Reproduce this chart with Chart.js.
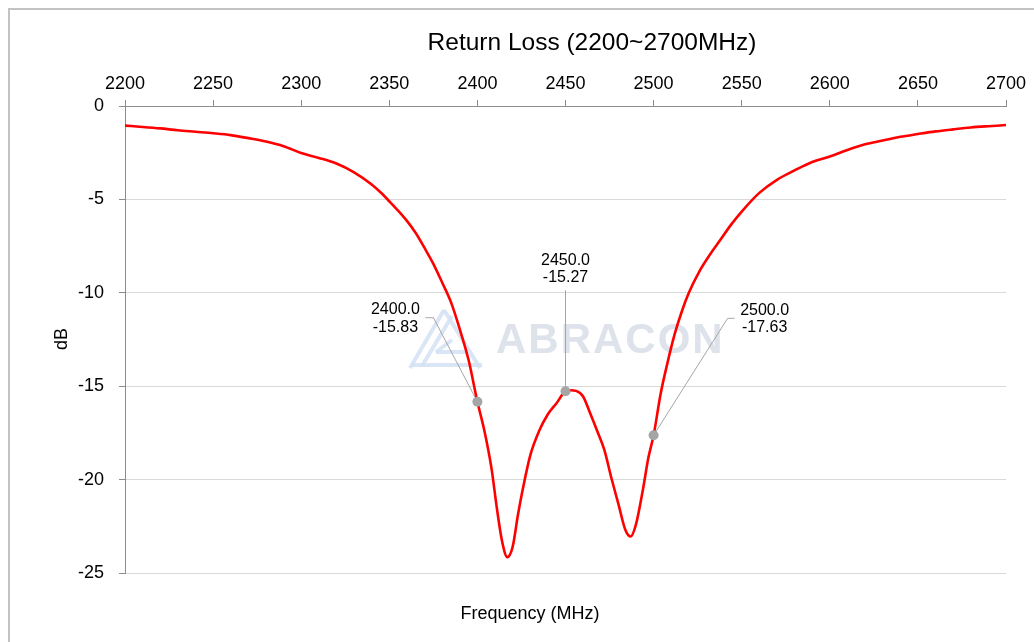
<!DOCTYPE html>
<html><head><meta charset="utf-8">
<script src="https://cdn.jsdelivr.net/npm/chart.js@4"></script>
<style>html,body{margin:0;padding:0;background:#fff}#wrap{width:1034px;height:642px;position:relative}</style>
</head><body><div id="wrap"><canvas id="c" width="1034" height="642"></canvas></div>
<script>
const freqMHz = [2200,2210,2220,2230,2240,2250,2260,2270,2280,2290,2300,2310,2320,2330,2340,2345,2350,2355,2360,2365,2370,2375,2380,2385,2390,2395,2400,2404,2408,2411,2414,2417,2420,2423,2426,2430,2435,2440,2445,2450,2453,2456,2460,2464,2468,2472,2476,2480,2484,2487,2490,2494,2497,2500,2504,2508,2512,2516,2520,2526,2532,2538,2544,2550,2560,2570,2580,2590,2600,2610,2620,2630,2640,2650,2660,2670,2680,2690,2700];
const returnLossDb = [-1.05,-1.12,-1.2,-1.3,-1.38,-1.46,-1.56,-1.72,-1.9,-2.15,-2.52,-2.78,-3.08,-3.55,-4.2,-4.62,-5.1,-5.6,-6.15,-6.8,-7.6,-8.45,-9.45,-10.5,-11.95,-13.6,-15.83,-17.4,-19.4,-21.5,-23.3,-24.15,-23.6,-21.9,-20.4,-18.7,-17.4,-16.5,-15.9,-15.27,-15.22,-15.25,-15.55,-16.45,-17.4,-18.4,-19.9,-21.3,-22.7,-23.05,-22.4,-20.5,-18.85,-17.63,-15.4,-13.7,-12.2,-11.0,-10.0,-8.85,-7.95,-7.15,-6.35,-5.65,-4.65,-3.95,-3.45,-3.0,-2.7,-2.35,-2.05,-1.85,-1.65,-1.5,-1.36,-1.25,-1.15,-1.08,-1.02];
const markerFreqs = [2400, 2450, 2500];
const markerDb = [-15.83, -15.27, -17.63];
const xTickValues = [2200,2250,2300,2350,2400,2450,2500,2550,2600,2650,2700];
const yTickValues = [0,-5,-10,-15,-20,-25];
const chartTitle = 'Return Loss (2200~2700MHz)';
const xAxisTitle = 'Frequency (MHz)';
const yAxisTitle = 'dB';
const watermarkText = 'ABRACON';

const FONT = '"Liberation Sans", Arial, sans-serif';

const curvePoints = freqMHz.map((f, i) => ({x: f, y: returnLossDb[i]}));
const markerPoints = markerFreqs.map((f, i) => ({x: f, y: markerDb[i]}));

// label placement offsets (pixels) relative to each marker
const calloutLayout = [
  {lx: -82, ly: -83, path: [[-44, -84], [-52, -84]]},
  {lx: 0, ly: -122, path: [[0, -101]]},
  {lx: 111, ly: -116, path: [[74, -117], [81, -117]]}
];

const decorPlugin = {
  id: 'decor',
  beforeDraw(chart) {
    const ctx = chart.ctx;
    ctx.save();
    ctx.fillStyle = '#fff';
    ctx.fillRect(0, 0, chart.width, chart.height);
    ctx.strokeStyle = '#c3c3c3';
    ctx.lineWidth = 2;
    ctx.beginPath();
    ctx.moveTo(9, chart.height);
    ctx.lineTo(9, 9);
    ctx.lineTo(chart.width, 9);
    ctx.stroke();
    ctx.restore();
  },
  beforeDatasetsDraw(chart) {
    const ctx = chart.ctx;
    ctx.save();
    // watermark logo
    ctx.strokeStyle = 'rgba(212,225,244,0.85)';
    ctx.lineWidth = 4;
    ctx.lineCap = 'butt';
    const segs = [
      [[444, 310], [410, 368]],
      [[452, 316], [422, 366]],
      [[444, 310], [480, 368]],
      [[412, 365], [482, 365]],
      [[436, 352], [452, 340]],
      [[436, 352], [468, 352]]
    ];
    segs.forEach(s => { ctx.beginPath(); ctx.moveTo(s[0][0], s[0][1]); ctx.lineTo(s[1][0], s[1][1]); ctx.stroke(); });
    ctx.fillStyle = 'rgb(222,226,234)';
    ctx.font = 'bold 42px ' + FONT;
    ctx.textBaseline = 'alphabetic';
    ctx.textAlign = 'left';
    if ('letterSpacing' in ctx) ctx.letterSpacing = '2px';
    ctx.fillText(watermarkText, 496, 353);
    if ('letterSpacing' in ctx) ctx.letterSpacing = '0px';
    // leader lines
    const xs = chart.scales.x, ys = chart.scales.y;
    ctx.strokeStyle = '#a6a6a6';
    ctx.lineWidth = 1;
    markerFreqs.forEach((f, i) => {
      const px = xs.getPixelForValue(f), py = ys.getPixelForValue(markerDb[i]);
      ctx.beginPath();
      ctx.moveTo(px, py);
      calloutLayout[i].path.forEach(p => ctx.lineTo(px + p[0], py + p[1]));
      ctx.stroke();
    });
    ctx.restore();
  },
  afterDatasetsDraw(chart) {
    const ctx = chart.ctx;
    const xs = chart.scales.x, ys = chart.scales.y;
    ctx.save();
    ctx.fillStyle = '#000';
    ctx.font = '16px ' + FONT;
    ctx.textAlign = 'center';
    ctx.textBaseline = 'middle';
    markerFreqs.forEach((f, i) => {
      const px = xs.getPixelForValue(f), py = ys.getPixelForValue(markerDb[i]);
      const cx = px + calloutLayout[i].lx, cy = py + calloutLayout[i].ly;
      ctx.fillText(f.toFixed(1), cx, cy - 8.7);
      ctx.fillText(markerDb[i].toFixed(2), cx, cy + 8.7);
    });
    // titles
    ctx.font = '24.5px ' + FONT;
    ctx.fillText(chartTitle, 592, 43);
    ctx.font = '18px ' + FONT;
    ctx.fillText(xAxisTitle, 530, 614);
    ctx.save();
    ctx.translate(62, 339);
    ctx.rotate(-Math.PI / 2);
    ctx.fillText(yAxisTitle, 0, 0);
    ctx.restore();
    ctx.restore();
  }
};

new Chart(document.getElementById('c'), {
  type: 'line',
  data: {
    datasets: [
      {
        data: markerPoints,
        showLine: false,
        pointRadius: 5,
        pointHoverRadius: 5,
        pointBackgroundColor: '#a5a5a5',
        pointBorderWidth: 0,
        order: 0
      },
      {
        data: curvePoints,
        borderColor: '#ff0000',
        borderWidth: 2.6,
        pointRadius: 0,
        fill: false,
        cubicInterpolationMode: 'monotone',
        order: 1
      }
    ]
  },
  options: {
    responsive: false,
    animation: false,
    devicePixelRatio: 1,
    layout: {padding: {left: 0, top: 0, right: 28, bottom: 69}},
    plugins: {legend: {display: false}, title: {display: false}, tooltip: {enabled: false}},
    events: [],
    scales: {
      x: {
        type: 'linear',
        position: 'top',
        min: 2200, max: 2700,
        afterBuildTicks(scale) { scale.ticks = xTickValues.map(v => ({value: v})); },
        afterFit(scale) { scale.height = 106; scale.paddingLeft = 0; scale.paddingRight = 0; },
        ticks: {
          color: '#000', padding: 5, maxRotation: 0, autoSkip: false,
          font: {family: FONT, size: 18},
          callback: v => String(v)
        },
        grid: {drawOnChartArea: false, tickLength: 6, tickColor: '#8c8c8c', color: '#8c8c8c'},
        border: {display: true, color: '#8c8c8c', width: 1}
      },
      y: {
        type: 'linear',
        min: -25, max: 0,
        afterBuildTicks(scale) { scale.ticks = yTickValues.map(v => ({value: v})); },
        afterFit(scale) { scale.width = 125; scale.paddingTop = 0; scale.paddingBottom = 0; },
        ticks: {
          color: '#000', padding: 15, autoSkip: false,
          font: {family: FONT, size: 18},
          callback: v => String(v)
        },
        grid: {color: '#d9d9d9', lineWidth: 1, tickLength: 6, tickColor: '#8c8c8c'},
        border: {display: true, color: '#8c8c8c', width: 1}
      }
    }
  },
  plugins: [decorPlugin]
});
</script></body></html>
